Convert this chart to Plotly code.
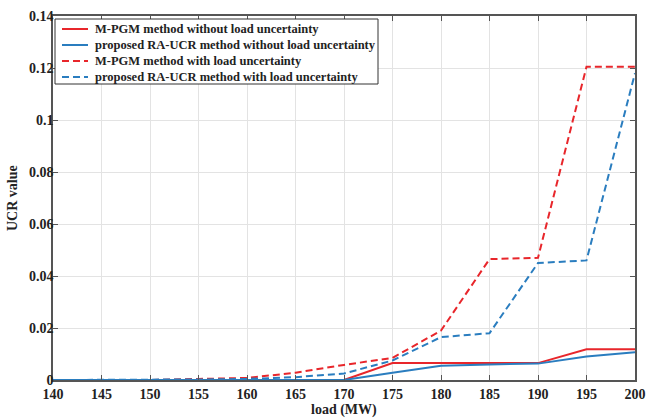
import plotly.graph_objects as go

load = [140, 145, 150, 155, 160, 165, 170, 175, 180, 185, 190, 195, 200]
mpgm_no_unc = [0, 0, 0, 0, 0, 0, 0, 0.0065, 0.0065, 0.0065, 0.0065, 0.0118, 0.0118]
raucr_no_unc = [0, 0, 0, 0, 0, 0, 0, 0.0028, 0.0055, 0.006, 0.0063, 0.009, 0.0107]
mpgm_unc = [0, 0, 0, 0.0004, 0.0008, 0.0028, 0.0058, 0.0085, 0.019, 0.0465, 0.047, 0.1205, 0.1205]
raucr_unc = [0, 0, 0, 0.0002, 0.0004, 0.0011, 0.0025, 0.0075, 0.0165, 0.018, 0.045, 0.046, 0.118]

x_ticks = list(range(140, 201, 5))
y_ticks = [0, 0.02, 0.04, 0.06, 0.08, 0.1, 0.12, 0.14]
y_ticklabels = ["0", "0.02", "0.04", "0.06", "0.08", "0.1", "0.12", "0.14"]

names = [
    "M-PGM method without load uncertainty",
    "proposed RA-UCR method without load uncertainty",
    "M-PGM method with load uncertainty",
    "proposed RA-UCR method with load uncertainty",
]
RED = "#e8262b"
BLUE = "#2a7dbf"
DASH = "7px,4px"

fig = go.Figure()
series = [mpgm_no_unc, raucr_no_unc, mpgm_unc, raucr_unc]
colors = [RED, BLUE, RED, BLUE]
dashes = ["solid", "solid", DASH, DASH]
for ys, nm, c, d in zip(series, names, colors, dashes):
    fig.add_trace(go.Scatter(x=load, y=ys, mode="lines", name=nm, showlegend=False,
                             line=dict(color=c, width=2, dash=d)))

axis_common = dict(
    showgrid=True, gridcolor="#e3e3e3", gridwidth=1,
    showline=True, linecolor="#555555", linewidth=1.5, mirror="ticks",
    ticks="inside", ticklen=5, tickcolor="#555555",
    zeroline=False, automargin=False,
    tickfont=dict(family="Liberation Serif", size=14, color="#222222"),
)

# plot area geometry (pixels) used to place the hand-built legend box
W, H = 646, 419
ML, MR, MT, MB = 53, 11, 16, 39
PW, PH = W - ML - MR, H - MT - MB


def px_x(px):
    return (px - ML) / PW


def px_y(py):
    return (H - MB - py) / PH


shapes = [dict(type="rect", xref="paper", yref="paper",
               x0=px_x(55), x1=px_x(378), y0=px_y(84), y1=px_y(19),
               line=dict(color="#333333", width=1), fillcolor="white", layer="above")]
annotations = []
for i, (nm, c, d) in enumerate(zip(names, colors, dashes)):
    row_y = 29 + 16 * i
    shapes.append(dict(type="line", xref="paper", yref="paper",
                       x0=px_x(62), x1=px_x(88), y0=px_y(row_y), y1=px_y(row_y),
                       line=dict(color=c, width=2, dash=d), layer="above"))
    annotations.append(dict(text="<b>" + nm + "</b>", xref="paper", yref="paper",
                            x=px_x(93), y=px_y(row_y), xanchor="left", yanchor="middle",
                            showarrow=False,
                            font=dict(family="Liberation Serif", size=12.5, color="#222222")))

annotations += [
    dict(text="<b>load (MW)</b>", x=0.5, y=px_y(410), xref="paper", yref="paper",
         xanchor="center", yanchor="middle", showarrow=False,
         font=dict(family="Liberation Serif", size=14, color="#222222")),
    dict(text="<b>UCR value</b>", x=px_x(12), y=0.5, xref="paper", yref="paper",
         xanchor="center", yanchor="middle", showarrow=False, textangle=-90,
         font=dict(family="Liberation Serif", size=14, color="#222222")),
]

fig.update_layout(
    width=W, height=H, autosize=False,
    margin=dict(l=ML, r=MR, t=MT, b=MB),
    plot_bgcolor="white", paper_bgcolor="white",
    font=dict(family="Liberation Serif", color="#222222"),
    showlegend=False,
    xaxis=dict(range=[140, 200], tickvals=x_ticks, ticklabelstandoff=0,
               ticktext=["<b>%d</b>" % v for v in x_ticks], **axis_common),
    yaxis=dict(range=[0, 0.14], tickvals=y_ticks, ticklabelstandoff=-5,
               ticktext=["<b>" + s + "</b>" for s in y_ticklabels], **axis_common),
    shapes=shapes,
    annotations=annotations,
)

fig.write_html(
    "out.html",
    config={"displayModeBar": False, "responsive": False},
    post_script=(
        "document.body.style.margin='0';"
        "document.body.style.overflow='hidden';"
        "Plotly.relayout('{plot_id}', {width: 646, height: 419});"
    ),
)
